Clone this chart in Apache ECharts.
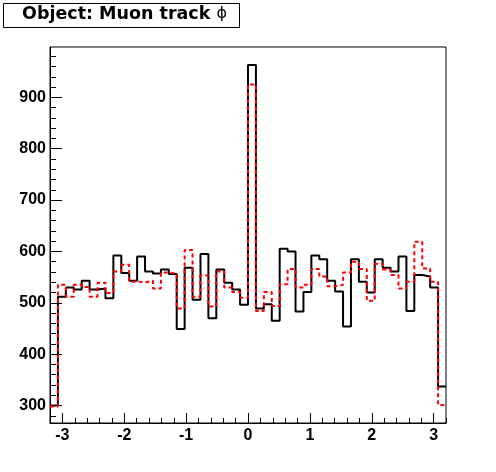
<!DOCTYPE html>
<html>
<head>
<meta charset="utf-8">
<script src="https://cdn.jsdelivr.net/npm/echarts@6/dist/echarts.min.js"></script>
<style>
html,body{margin:0;padding:0;background:#fff;}
#chart{width:496px;height:472px;}
</style>
</head>
<body>
<div id="chart"></div>
<script>
// Histogram binning
const binLow = -3.2;
const binWidth = 0.128;
// Bin contents (50 bins)
const blackValues = [300,512,530,526,543,526,528,509,592,558,
                     543,590,561,557,565,556,449,568,506,595,
                     470,565,539,526,496,963,489,497,465,605,
                     600,483,521,592,585,543,522,454,585,541,
                     520,585,568,561,590,484,554,551,530,337];
const redValues   = [298,535,512,535,531,512,539,519,561,574,
                     541,540,543,528,559,557,489,603,512,553,
                     493,561,530,521,510,925,484,521,494,536,
                     566,530,535,566,551,532,535,559,580,566,
                     504,576,565,554,528,541,619,567,541,301];
// Tick values
const xMajorTicks = [-3,-2,-1,0,1,2,3];
const xMinorTicks = [-3.2,-3.0,-2.8,-2.6,-2.4,-2.2,-2.0,-1.8,-1.6,-1.4,-1.2,-1.0,-0.8,-0.6,-0.4,-0.2,0,
                     0.2,0.4,0.6,0.8,1.0,1.2,1.4,1.6,1.8,2.0,2.2,2.4,2.6,2.8,3.0,3.2];
const yMajorTicks = [300,400,500,600,700,800,900];
const yMinorTicks = [280,300,320,340,360,380,400,420,440,460,480,500,520,540,560,580,600,620,640,660,680,
                     700,720,740,760,780,800,820,840,860,880,900,920,940,960,980];
const xRange = [-3.2, 3.2];
const yRange = [266, 998];
const titleText = 'Object: Muon track ';
const titleSymbol = '\u03D5';

function stepData(vals){
  const d = vals.map((v,i)=>[binLow + i*binWidth, v]);
  d.push([binLow + vals.length*binWidth, vals[vals.length-1]]);
  return d;
}

const chart = echarts.init(document.getElementById('chart'), null, {renderer:'canvas'});
const labelFont = {fontFamily:'Liberation Sans', fontWeight:'bold', fontSize:16, color:'#000'};
const option = {
  backgroundColor:'#fff',
  animation:false,
  grid:{left:50, right:50, top:47, bottom:49, show:true, borderColor:'#000', borderWidth:1, backgroundColor:'#fff'},
  xAxis:[
    {type:'value', min:xRange[0], max:xRange[1], position:'bottom',
     axisLine:{show:true, onZero:false, lineStyle:{color:'#000', width:1}},
     axisTick:{show:true, inside:true, length:10, customValues:xMajorTicks, lineStyle:{color:'#000', width:1}},
     axisLabel:Object.assign({show:true, margin:5, customValues:xMajorTicks, formatter:v=>String(Math.round(v))}, labelFont),
     splitLine:{show:false}},
    {type:'value', min:xRange[0], max:xRange[1], position:'bottom',
     axisLine:{show:false, onZero:false},
     axisTick:{show:true, inside:true, length:5, customValues:xMinorTicks, lineStyle:{color:'#000', width:1}},
     axisLabel:{show:false},
     splitLine:{show:false}}
  ],
  yAxis:[
    {type:'value', min:yRange[0], max:yRange[1], position:'left',
     axisLine:{show:true, onZero:false, lineStyle:{color:'#000', width:1}},
     axisTick:{show:true, inside:true, length:12, customValues:yMajorTicks, lineStyle:{color:'#000', width:1}},
     axisLabel:Object.assign({show:true, margin:4, customValues:yMajorTicks}, labelFont),
     splitLine:{show:false}},
    {type:'value', min:yRange[0], max:yRange[1], position:'left',
     axisLine:{show:false, onZero:false},
     axisTick:{show:true, inside:true, length:6, customValues:yMinorTicks, lineStyle:{color:'#000', width:1}},
     axisLabel:{show:false},
     splitLine:{show:false}}
  ],
  series:[
    {type:'line', step:'end', xAxisIndex:0, yAxisIndex:0, symbol:'none', clip:true,
     data:stepData(blackValues), lineStyle:{color:'#000', width:2}, z:2},
    {type:'line', step:'end', xAxisIndex:0, yAxisIndex:0, symbol:'none', clip:true,
     data:stepData(redValues), lineStyle:{color:'#ff0000', width:2, type:[4,3]}, z:3}
  ],
  graphic:[
    {type:'rect', left:3, top:3, shape:{width:236, height:24},
     style:{fill:'#fff', stroke:'#000', lineWidth:1}, z:10},
    {type:'text', left:22, top:5, z:11,
     style:{text:'{a|'+titleText+'}{b|'+titleSymbol+'}',
       rich:{a:{fontFamily:'DejaVu Sans', fontWeight:'bold', fontSize:17.5, fill:'#000', lineHeight:20},
             b:{fontFamily:'DejaVu Sans', fontWeight:'normal', fontSize:16, fill:'#000', lineHeight:20}}}}
  ]
};
chart.setOption(option);
</script>
</body>
</html>
